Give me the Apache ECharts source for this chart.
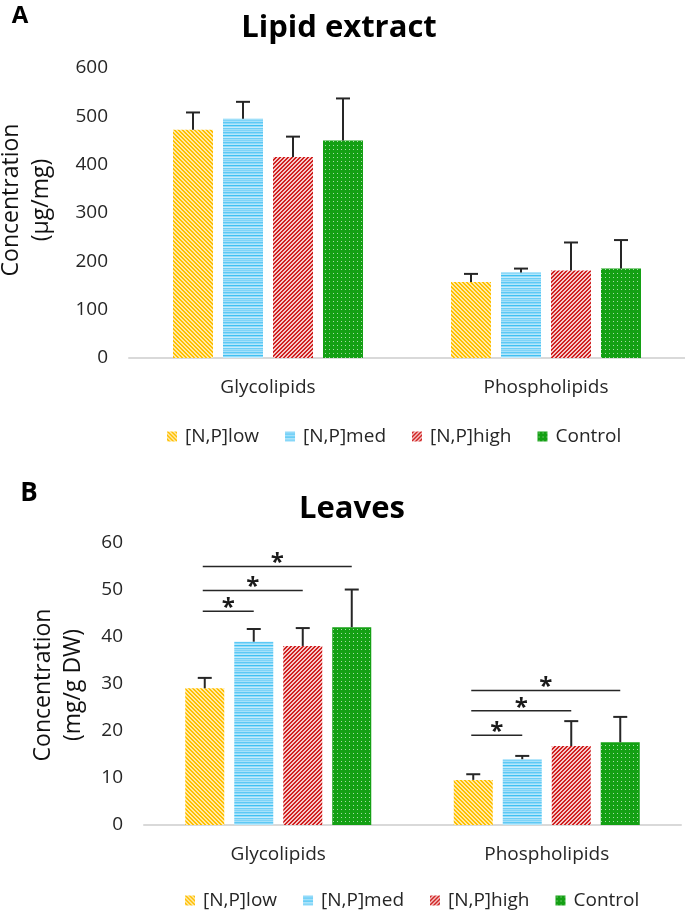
<!DOCTYPE html>
<html>
<head>
<meta charset="utf-8">
<script src="https://cdn.jsdelivr.net/npm/echarts@6/dist/echarts.min.js"></script>
<style>
html,body{margin:0;padding:0;background:#fff;}
#chart{width:685px;height:911px;}
</style>
</head>
<body>
<div id="chart"></div>
<script>
// ---------- data ----------
var categories = ['Glycolipids', 'Phospholipids'];
var seriesNames = ['[N,P]low', '[N,P]med', '[N,P]high', 'Control'];
var ticksA = [0, 100, 200, 300, 400, 500, 600];
var ticksB = [0, 10, 20, 30, 40, 50, 60];

// Panel A: Lipid extract (µg/mg)
var extractLow = [472, 157];
var extractMed = [495, 177];
var extractHigh = [416, 181];
var extractControl = [450, 185];
var extractLowSd = [36, 17];
var extractMedSd = [35, 8];
var extractHighSd = [42, 58];
var extractControlSd = [87, 59];

// Panel B: Leaves (mg/g DW)
var leavesLow = [29.1, 9.6];
var leavesMed = [39.0, 14.0];
var leavesHigh = [38.1, 16.8];
var leavesControl = [42.1, 17.6];
var leavesLowSd = [2.2, 1.2];
var leavesMedSd = [2.7, 0.7];
var leavesHighSd = [3.8, 5.3];
var leavesControlSd = [8.0, 5.4];

// significance brackets in panel B: [category, fromBar, toBar, height]
var sigGlyco = [[0, 0, 1, 45.5], [0, 0, 2, 49.9], [0, 0, 3, 55.0]];
var sigPhospho = [[1, 0, 1, 19.1], [1, 0, 2, 24.3], [1, 0, 3, 28.6]];

// ---------- patterns ----------
function tile(w, h, fn) {
  var c = document.createElement('canvas');
  c.width = w; c.height = h;
  var ctx = c.getContext('2d');
  for (var y = 0; y < h; y++) for (var x = 0; x < w; x++) {
    ctx.fillStyle = fn(x, y);
    ctx.fillRect(x, y, 1, 1);
  }
  return { image: c, repeat: 'repeat' };
}
var patYellow = tile(4, 4, function (x, y) {
  var k = ((x - y) % 4 + 4) % 4;
  return k < 2 ? '#FFC000' : '#FFE9A8';
});
var blueRows = ['#7fd3f7', '#a6e1fa', '#5cc9f5', '#8fd9f8', '#b5e7fb', '#3fc1f3', '#93daf8', '#c4ecfc', '#6ccef6', '#9fdff9'];
var patBlue = tile(1, blueRows.length, function (x, y) { return blueRows[y]; });
var patRed = tile(4, 4, function (x, y) {
  var k = (x + y) % 4;
  return k < 2 ? '#D02020' : '#F5C8C8';
});
var patGreen = tile(4, 4, function (x, y) {
  return (x === 1 && y === 1) ? '#A8DCA8' : '#14A014';
});
var patterns = [patYellow, patBlue, patRed, patGreen];

// ---------- layout constants ----------
var barWA = 40, gapA = 10;
var barWB = 39, gapB = 10;
var font = '"Open Sans", sans-serif';
var textCol = '#262626';

function errSeries(name, idx, means, sds, gridIdx, spacing) {
  var d = means.map(function (m, i) { return [i, m, m + sds[i]]; });
  return {
    type: 'custom', name: name + ' err', xAxisIndex: gridIdx, yAxisIndex: gridIdx,
    z: 5, silent: true,
    encode: { x: 0, y: 2 },
    data: d,
    renderItem: function (params, api) {
      var p0 = api.coord([api.value(0), api.value(1)]);
      var p1 = api.coord([api.value(0), api.value(2)]);
      var x = p0[0] + (idx - 1.5) * spacing;
      var st = { stroke: '#262626', lineWidth: 2 };
      return { type: 'group', children: [
        { type: 'line', shape: { x1: x, y1: p0[1], x2: x, y2: p1[1] }, style: st },
        { type: 'line', shape: { x1: x - 7, y1: p1[1], x2: x + 7, y2: p1[1] }, style: st }
      ]};
    }
  };
}

function barSeries(name, idx, values, gridIdx, bw, gap) {
  return {
    type: 'bar', name: name, xAxisIndex: gridIdx, yAxisIndex: gridIdx,
    barWidth: bw, barGap: (gap / bw * 100) + '%',
    itemStyle: { color: patterns[idx] },
    data: values
  };
}

function sigSeries(data) {
  var spacing = barWB + gapB;
  return {
    type: 'custom', xAxisIndex: 1, yAxisIndex: 1, z: 6, silent: true,
    encode: { x: 0, y: 3 },
    data: data,
    renderItem: function (params, api) {
      var p = api.coord([api.value(0), api.value(3)]);
      var x1 = p[0] + (api.value(1) - 1.5) * spacing - 2;
      var x2 = p[0] + (api.value(2) - 1.5) * spacing;
      return { type: 'group', children: [
        { type: 'line', shape: { x1: x1, y1: p[1], x2: x2, y2: p[1] }, style: { stroke: '#262626', lineWidth: 1.5 } },
        { type: 'text', x: (x1 + x2) / 2, y: p[1] - 3,
          style: { text: '*', font: 'bold 24px ' + font, fill: '#1a1a1a', align: 'center', verticalAlign: 'middle' } }
      ]};
    }
  };
}

var lowsA = [extractLow, extractMed, extractHigh, extractControl];
var sdsA = [extractLowSd, extractMedSd, extractHighSd, extractControlSd];
var lowsB = [leavesLow, leavesMed, leavesHigh, leavesControl];
var sdsB = [leavesLowSd, leavesMedSd, leavesHighSd, leavesControlSd];

var series = [];
seriesNames.forEach(function (n, i) { series.push(barSeries(n, i, lowsA[i], 0, barWA, gapA)); });
seriesNames.forEach(function (n, i) { series.push(barSeries(n, i, lowsB[i], 1, barWB, gapB)); });
seriesNames.forEach(function (n, i) { series.push(errSeries(n, i, lowsA[i], sdsA[i], 0, barWA + gapA)); });
seriesNames.forEach(function (n, i) { series.push(errSeries(n, i, lowsB[i], sdsB[i], 1, barWB + gapB)); });
series.push(sigSeries(sigGlyco));
series.push(sigSeries(sigPhospho));

function xAx(gi) {
  return {
    type: 'category', gridIndex: gi, data: categories,
    axisLine: { lineStyle: { color: '#d9d9d9', width: 2 } },
    axisTick: { show: false },
    axisLabel: { fontFamily: font, fontSize: 19, color: textCol, margin: 20 }
  };
}
function yAx(gi, ticks) {
  return {
    type: 'value', gridIndex: gi, min: ticks[0], max: ticks[ticks.length - 1],
    interval: ticks[1] - ticks[0],
    axisLine: { show: false }, axisTick: { show: false }, splitLine: { show: false },
    axisLabel: { fontFamily: font, fontSize: 19, color: textCol, margin: 21 }
  };
}
function legend(left, top) {
  return {
    data: seriesNames, left: left, top: top, itemWidth: 10, itemHeight: 10, itemGap: 26,
    icon: 'rect', selectedMode: false,
    textStyle: { fontFamily: font, fontSize: 19, color: textCol, padding: [0, 0, 0, 3] }
  };
}

var option = {
  animation: false,
  grid: [
    { left: 129, right: 0, top: 68, height: 290 },
    { left: 144, right: 4, top: 543, height: 282 }
  ],
  xAxis: [xAx(0), xAx(1)],
  yAxis: [yAx(0, ticksA), yAx(1, ticksB)],
  legend: [legend(162, 422), legend(180, 886)],
  series: series,
  graphic: [
    { type: 'text', x: 20, y: 16, style: { text: 'A', font: 'bold 24px ' + font, fill: '#000', align: 'center', verticalAlign: 'middle' } },
    { type: 'text', x: 29, y: 494, style: { text: 'B', font: 'bold 26px ' + font, fill: '#000', align: 'center', verticalAlign: 'middle' } },
    { type: 'text', x: 339, y: 28, style: { text: 'Lipid extract', font: 'bold 31px ' + font, fill: '#000', align: 'center', verticalAlign: 'middle' } },
    { type: 'text', x: 352, y: 509, style: { text: 'Leaves', font: 'bold 31px ' + font, fill: '#000', align: 'center', verticalAlign: 'middle' } },
    { type: 'text', x: 26, y: 200, rotation: Math.PI / 2,
      style: { text: 'Concentration\n(µg/mg)', font: '23px ' + font, lineHeight: 30, fill: '#111', align: 'center', verticalAlign: 'middle' } },
    { type: 'text', x: 58, y: 685, rotation: Math.PI / 2,
      style: { text: 'Concentration\n(mg/g DW)', font: '23px ' + font, lineHeight: 30, fill: '#111', align: 'center', verticalAlign: 'middle' } }
  ]
};

var chart = echarts.init(document.getElementById('chart'), null, { renderer: 'canvas' });
chart.setOption(option);
</script>
</body>
</html>
